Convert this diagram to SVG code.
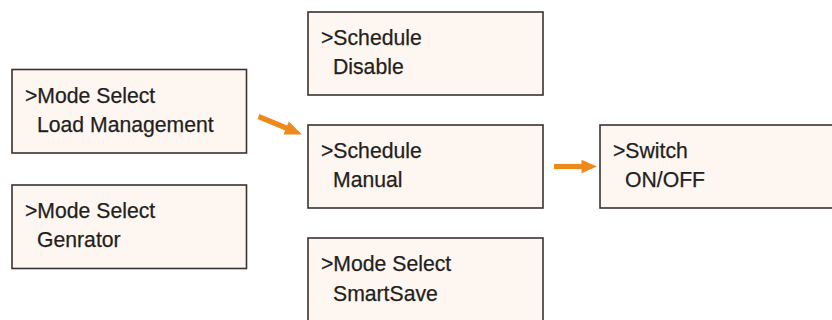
<svg xmlns="http://www.w3.org/2000/svg" width="832" height="320" viewBox="0 0 832 320">
<style>
.box{fill:#fef6f1;stroke:#3a3232;stroke-width:1.6}
.t{font-family:"Liberation Sans",Arial,sans-serif;font-size:21.2px;fill:#231f20;stroke:#231f20;stroke-width:0.25}
.arr{fill:#ee8a1c}
</style>
<defs>
<path id="arrow" class="arr" d="M0,-2.6 L30,-2.6 L30,-7 L47,0 L30,7 L30,2.6 L0,2.6 Z"/>
</defs>
<rect width="832" height="320" fill="#ffffff"/>
<g id="node-load">
<rect class="box" x="12" y="69.5" width="234.5" height="83.5"/>
<text class="t" x="25" y="102.5">&gt;Mode Select</text>
<text class="t" x="37" y="131.5">Load Management</text>
</g>
<g id="node-genrator">
<rect class="box" x="12" y="185" width="234.5" height="83.5"/>
<text class="t" x="25" y="218">&gt;Mode Select</text>
<text class="t" x="37" y="247">Genrator</text>
</g>
<g id="node-disable">
<rect class="box" x="308" y="12" width="235" height="83"/>
<text class="t" x="321" y="44.5">&gt;Schedule</text>
<text class="t" x="333" y="73.5">Disable</text>
</g>
<g id="node-manual">
<rect class="box" x="308" y="125" width="235" height="83"/>
<text class="t" x="321" y="158">&gt;Schedule</text>
<text class="t" x="333" y="187">Manual</text>
</g>
<g id="node-smartsave">
<rect class="box" x="308" y="238" width="235" height="90"/>
<text class="t" x="321" y="271">&gt;Mode Select</text>
<text class="t" x="333" y="301">SmartSave</text>
</g>
<g id="node-switch">
<rect class="box" x="600" y="125" width="240" height="83"/>
<text class="t" x="613" y="158">&gt;Switch</text>
<text class="t" x="625" y="187">ON/OFF</text>
</g>
<g id="connectors">
<use href="#arrow" transform="translate(258.5,116.5) rotate(22.5)"/>
<use href="#arrow" transform="translate(554,166.5) scale(0.915,0.95)"/>
</g>
</svg>
